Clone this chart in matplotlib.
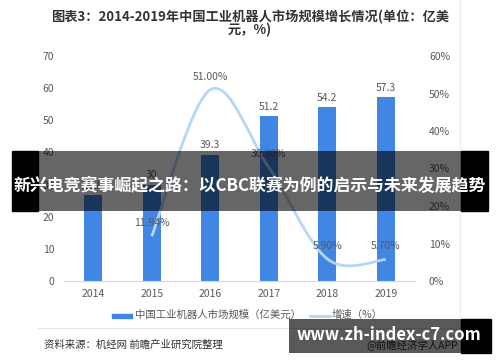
import matplotlib
matplotlib.use("Agg")
import matplotlib.pyplot as plt
from matplotlib.path import Path
from matplotlib.patches import PathPatch, Rectangle
from matplotlib.lines import Line2D
import numpy as np

plt.rcParams['font.family'] = ['Noto Sans CJK SC', 'DejaVu Sans']

years = ['2014', '2015', '2016', '2017', '2018', '2019']
market = [26.8, 30.0, 39.3, 51.2, 54.2, 57.3]
market_labels = ['26.8', '30', '39.3', '51.2', '54.2', '57.3']
growth_years = [1, 2, 3, 4, 5]  # index into years, 2014 has no growth value
growth = [11.94, 51.00, 30.30, 5.90, 5.70]
left_ticks = [0, 10, 20, 30, 40, 50, 60, 70]
right_ticks = [0, 10, 20, 30, 40, 50, 60]

BLUE = '#4286e3'
LINE = '#b7d6f6'
GREY = '#595959'

W, H = 500, 362
fig = plt.figure(figsize=(W / 100, H / 100), dpi=100)


def fx(px):
    return px / W


def fy(py):
    return 1 - py / H


ax = fig.add_axes([fx(64), fy(281), fx(415) - fx(64), fy(56) - fy(281)])
x = np.arange(len(years))
ax.bar(x, market, width=0.31, color=BLUE, zorder=2)
for xi, v, lab in zip(x, market, market_labels):
    ax.text(xi, v + 1.3, lab, ha='center', va='bottom', fontsize=7.5, color=GREY)

ax.set_xlim(-0.5, len(years) - 0.5)
ax.set_ylim(0, 70)
ax.set_yticks(left_ticks)
ax.set_xticks(x)
ax.set_xticklabels(years)
ax.tick_params(axis='both', length=0, labelsize=7.5, labelcolor=GREY)
ax.tick_params(axis='y', pad=7)
ax.tick_params(axis='x', pad=6)
for s in ['top', 'right', 'left']:
    ax.spines[s].set_visible(False)
ax.spines['bottom'].set_color('#d9d9d9')

ax2 = ax.twinx()
ax2.set_ylim(0, 60)
ax2.set_yticks(right_ticks)
ax2.set_yticklabels([f'{t}%' for t in right_ticks])
ax2.tick_params(axis='y', length=0, labelsize=7.5, labelcolor=GREY, pad=10)
for s in ax2.spines.values():
    s.set_visible(False)

# smoothed growth line (bezier through the points)
pts = np.column_stack([growth_years, growth]).astype(float)
verts = [tuple(pts[0])]
codes = [Path.MOVETO]
n = len(pts)
for i in range(n - 1):
    p0 = pts[max(i - 1, 0)]
    p1 = pts[i]
    p2 = pts[i + 1]
    p3 = pts[min(i + 2, n - 1)]
    c1 = p1 + (p2 - p0) / 6
    c2 = p2 - (p3 - p1) / 6
    verts += [tuple(c1), tuple(c2), tuple(p2)]
    codes += [Path.CURVE4] * 3
ax2.add_patch(PathPatch(Path(verts, codes), fill=False, edgecolor=LINE, lw=2, zorder=3))
for gx, g in zip(growth_years, growth):
    ax2.text(gx, g + 2.2, f'{g:.2f}%', ha='center', va='bottom', fontsize=7.5, color=GREY)

# title
fig.text(0.5, fy(17), '图表3：2014-2019年中国工业机器人市场规模增长情况(单位：亿美',
         ha='center', va='center', fontsize=9.5, fontweight='bold', color='#333333')
fig.text(0.5, fy(30), '元，%)', ha='center', va='center', fontsize=9.5,
         fontweight='bold', color='#333333')

# legend
fig.patches.append(Rectangle((fx(112), fy(318)), fx(20), 4 / H, transform=fig.transFigure,
                             color=BLUE))
fig.text(fx(135), fy(315), '中国工业机器人市场规模（亿美元）', ha='left', va='center',
         fontsize=7.5, color=GREY)
fig.lines.append(Line2D([fx(310), fx(330)], [fy(316), fy(316)], transform=fig.transFigure,
                        color=LINE, lw=2))
fig.text(fx(332), fy(315), '增速（%）', ha='left', va='center', fontsize=7.5, color=GREY)

# frame lines and source
fig.lines.append(Line2D([fx(38), fx(460)], [fy(328), fy(328)], transform=fig.transFigure,
                        color='#e6e6e6', lw=0.8))
fig.lines.append(Line2D([fx(460), fx(460)], [fy(0), fy(330)], transform=fig.transFigure,
                        color='#ececec', lw=0.8))
fig.text(fx(44), fy(345), '资料来源：机经网 前瞻产业研究院整理', ha='left', va='center',
         fontsize=7.5, color='#333333')
fig.text(fx(458), fy(345), '@前瞻经济学人APP', ha='right', va='center',
         fontsize=7.5, color='#333333')

# banner overlays
fig.patches.append(Rectangle((fx(12), fy(211)), fx(26), 60 / H, transform=fig.transFigure,
                             color='black', zorder=10))
fig.patches.append(Rectangle((fx(38), fy(211)), fx(423), 60 / H, transform=fig.transFigure,
                             color='black', alpha=0.6, lw=0, zorder=10))
fig.patches.append(Rectangle((fx(461), fy(211)), fx(27), 60 / H, transform=fig.transFigure,
                             color='black', zorder=10))
fig.text(0.5, fy(186), '新兴电竞赛事崛起之路：以CBC联赛为例的启示与未来发展趋势',
         ha='center', va='center', fontsize=12.2, fontweight='bold', color='white', zorder=11)

fig.patches.append(Rectangle((fx(289), fy(353)), fx(172), 34 / H, transform=fig.transFigure,
                             color='black', alpha=0.65, lw=0, zorder=10))
fig.patches.append(Rectangle((fx(461), fy(353)), fx(30), 34 / H, transform=fig.transFigure,
                             color='black', zorder=10))
fig.text(fx(389), fy(335), 'www.zh-index-c7.com', ha='center', va='center',
         fontsize=12, fontweight='bold', color='white', zorder=11)

fig.savefig('out.png', dpi=100)
